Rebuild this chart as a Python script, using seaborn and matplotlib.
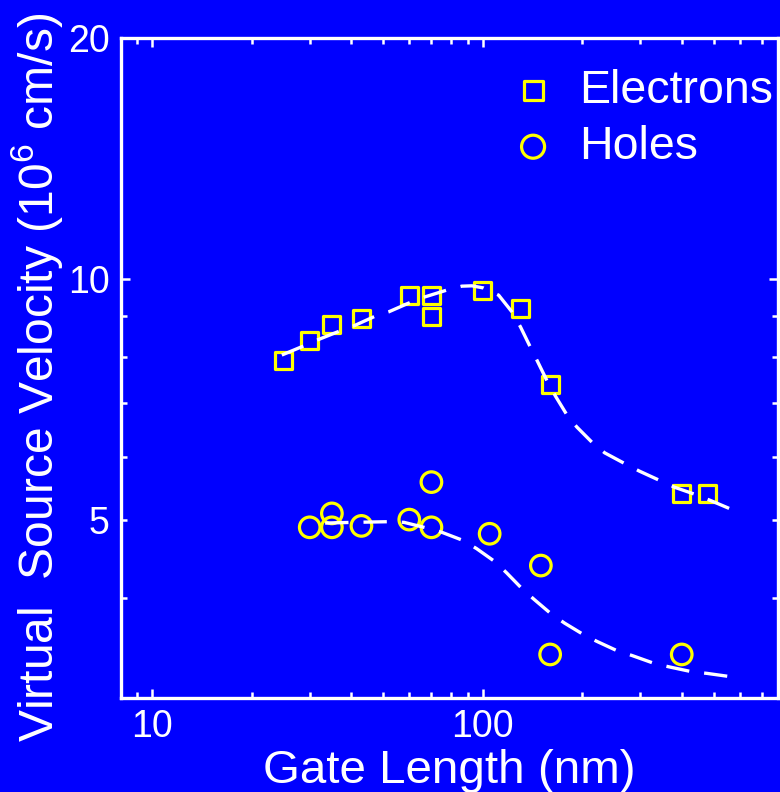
import matplotlib
matplotlib.use("Agg")
import matplotlib.pyplot as plt
from matplotlib.ticker import FixedLocator, FixedFormatter, NullFormatter
import seaborn as sns
import pandas as pd

# Measured virtual source velocity (10^6 cm/s) versus gate length (nm)
electron_length = [25, 30, 35, 43, 60, 70, 70, 100, 130, 160, 400, 480]
electron_velocity = [7.92, 8.38, 8.78, 8.92, 9.55, 9.55, 8.97, 9.67, 9.18, 7.39, 5.40, 5.40]

hole_length = [30, 35, 35, 43, 60, 70, 70, 105, 150, 160, 400]
hole_velocity = [4.90, 5.10, 4.90, 4.92, 5.01, 5.58, 4.90, 4.81, 4.39, 3.40, 3.40]

# Guide-to-the-eye trend curves
electron_trend_length = [24.7, 28.7, 31.5, 37.1, 40.7, 47.3, 51.9, 60.3, 66.2, 77.9, 86.5,
                         92.8, 100.6, 111.8, 122.7, 130.1, 139.5, 146.2, 156.7, 166.2, 179.4,
                         192.5, 214.7, 233.9, 268.0, 297.6, 342, 379.7, 437, 485, 565]
electron_trend_velocity = [8.04, 8.25, 8.39, 8.62, 8.74, 8.99, 9.10, 9.35, 9.49, 9.69, 9.80,
                           9.81, 9.75, 9.55, 9.10, 8.72, 8.22, 7.91, 7.46, 7.14, 6.78,
                           6.54, 6.25, 6.07, 5.89, 5.76, 5.61, 5.50, 5.39, 5.30, 5.16]

hole_trend_length = [33.4, 40.2, 52.2, 57.9, 67.8, 75.3, 87.1, 95.8, 108.9, 118.1, 131.4,
                     142.9, 161.2, 177.0, 201.8, 221.6, 257.6, 282.8, 332.7, 367.5, 429.5,
                     476.9, 561]
hole_trend_velocity = [4.96, 4.97, 4.98, 4.97, 4.89, 4.83, 4.72, 4.61, 4.44, 4.30, 4.11,
                       3.985, 3.82, 3.72, 3.60, 3.53, 3.43, 3.39, 3.31, 3.28, 3.235,
                       3.22, 3.19]

x_major_ticks = [10, 100]
x_major_labels = ["10", "100"]
x_minor_ticks = [9, 20, 30, 40, 50, 60, 70, 80, 90, 200, 300, 400, 500, 600, 700]
y_major_ticks = [10]
y_major_labels = ["10"]
y_minor_ticks = [3, 4, 5, 6, 7, 8, 9, 20]
y_minor_labels = ["", "", "5", "", "", "", "", "20"]

BLUE = "#0000FF"
YELLOW = "#FFFF00"
WHITE = "#FFFFFF"

sns.set_style("ticks")
plt.rcParams["font.family"] = ["Liberation Sans", "DejaVu Sans"]
plt.rcParams["mathtext.fontset"] = "custom"
plt.rcParams["mathtext.rm"] = "Liberation Sans"
plt.rcParams["mathtext.default"] = "regular"

fig = plt.figure(figsize=(7.8, 7.92), dpi=100, facecolor=BLUE)
ax = fig.add_axes([121 / 780, 1 - 698 / 792, (778 - 121) / 780, (698 - 38) / 792])
ax.set_facecolor(BLUE)
ax.set_xscale("log")
ax.set_yscale("log")

electrons = pd.DataFrame({"length": electron_length, "velocity": electron_velocity})
holes = pd.DataFrame({"length": hole_length, "velocity": hole_velocity})
e_trend = pd.DataFrame({"length": electron_trend_length, "velocity": electron_trend_velocity})
h_trend = pd.DataFrame({"length": hole_trend_length, "velocity": hole_trend_velocity})

sns.scatterplot(data=electrons, x="length", y="velocity", marker="s", s=12.2 ** 2,
                color=YELLOW, facecolor="none", edgecolor=YELLOW, linewidth=2.3,
                label="Electrons", ax=ax, zorder=3)
sns.scatterplot(data=holes, x="length", y="velocity", marker="o", s=14.8 ** 2,
                color=YELLOW, facecolor="none", edgecolor=YELLOW, linewidth=2.3,
                label="Holes", ax=ax, zorder=3)

dash = (0, (7.0, 4.5))
for trend in (e_trend, h_trend):
    sns.lineplot(data=trend, x="length", y="velocity", sort=False, estimator=None,
                 color=WHITE, linewidth=2.4, linestyle=dash, legend=False, ax=ax, zorder=4)

ax.set_xlim(8.06, 782)
ax.set_ylim(3.0, 20.0)

ax.xaxis.set_major_locator(FixedLocator(x_major_ticks))
ax.xaxis.set_major_formatter(FixedFormatter(x_major_labels))
ax.xaxis.set_minor_locator(FixedLocator(x_minor_ticks))
ax.xaxis.set_minor_formatter(NullFormatter())
ax.yaxis.set_major_locator(FixedLocator(y_major_ticks))
ax.yaxis.set_major_formatter(FixedFormatter(y_major_labels))
ax.yaxis.set_minor_locator(FixedLocator(y_minor_ticks))
ax.yaxis.set_minor_formatter(FixedFormatter(y_minor_labels))

for spine in ax.spines.values():
    spine.set_visible(True)
    spine.set_color(WHITE)
    spine.set_linewidth(2.4)

ax.tick_params(which="both", direction="in", top=True, right=True, bottom=True, left=True,
               colors=WHITE, labelcolor=WHITE, width=1.8, labelsize=27)
ax.tick_params(which="major", length=6.5)
ax.tick_params(which="minor", length=4.3)
ax.tick_params(axis="x", which="both", pad=8)
ax.tick_params(axis="y", which="both", pad=8)

ax.set_xlabel("Gate Length (nm)", fontsize=34.2, color=WHITE)
ax.set_ylabel("Virtual  Source Velocity (10$^{6}$ cm/s)", fontsize=34.6, color=WHITE)
ax.xaxis.set_label_coords(0.5, -0.078)
ax.yaxis.set_label_coords(-0.085, 0.485)

leg = ax.legend(loc="upper right", bbox_to_anchor=(0.9924, 0.9533), frameon=False,
                fontsize=33.5, labelcolor=WHITE, borderaxespad=0, borderpad=0,
                handlelength=1.0, handletextpad=0.49, labelspacing=0.26, markerscale=1.12)

fig.savefig("out.png", dpi=100, facecolor=BLUE)
